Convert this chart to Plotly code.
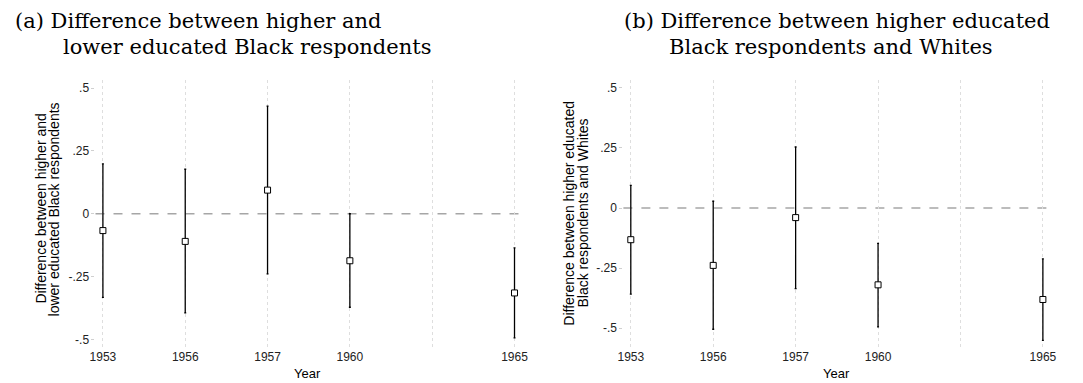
import plotly.graph_objects as go
from plotly.subplots import make_subplots

# Survey years; the blank slot keeps the spacing of the year axis
years = ["1953", "1956", "1957", "1960", "1965"]
year_slots = ["1953", "1956", "1957", "1960", " ", "1965"]

# (a) higher vs lower educated Black respondents
est_a = [-0.067, -0.110, 0.094, -0.187, -0.315]
lo_a = [-0.333, -0.394, -0.239, -0.372, -0.494]
hi_a = [0.198, 0.177, 0.428, 0.000, -0.136]

# (b) higher educated Black respondents vs Whites
est_b = [-0.132, -0.239, -0.040, -0.320, -0.381]
lo_b = [-0.359, -0.505, -0.336, -0.495, -0.551]
hi_b = [0.094, 0.028, 0.254, -0.147, -0.212]

y_ticks = [0.5, 0.25, 0, -0.25, -0.5]
y_tick_text = [".5", ".25", "0", "-.25", "-.5"]

titles_a = ["(a) Difference between higher and", "lower educated Black respondents"]
titles_b = ["(b) Difference between higher educated", "Black respondents and Whites"]
ytitle_a = ["Difference between higher and", "lower educated Black respondents"]
ytitle_b = ["Difference between higher educated", "Black respondents and Whites"]

W, H = 1083, 383
fig = make_subplots(rows=1, cols=2)


def px_x(v):
    return v / W


def px_y(v):
    return 1 - v / H


for col, est, lo, hi in [(1, est_a, lo_a, hi_a), (2, est_b, lo_b, hi_b)]:
    fig.add_trace(
        go.Scatter(
            x=years,
            y=est,
            mode="markers",
            marker=dict(symbol="square", size=6, color="white",
                        line=dict(color="black", width=1)),
            error_y=dict(
                type="data",
                symmetric=False,
                array=[h - e for h, e in zip(hi, est)],
                arrayminus=[e - l for e, l in zip(est, lo)],
                color="black",
                thickness=1.3,
                width=1,
            ),
            showlegend=False,
        ),
        row=1, col=col,
    )
    fig.add_hline(y=0, line=dict(color="#a6a6a6", width=1.3, dash="dash"),
                  layer="below", row=1, col=col)

axis_font = dict(family="Liberation Sans, Arial, sans-serif", size=12, color="#222")

x_domains = [[px_x(90.5), px_x(521.7)], [px_x(624.3), px_x(1056)]]
y_domain = [px_y(348), px_y(80)]
y_ranges = [[-0.534, 0.532], [-0.583, 0.533]]

for i in range(2):
    xa = "xaxis" if i == 0 else "xaxis2"
    ya = "yaxis" if i == 0 else "yaxis2"
    fig.layout[xa].update(
        domain=x_domains[i],
        type="category",
        categoryorder="array",
        categoryarray=year_slots,
        range=[-0.09, 5.09],
        showgrid=True,
        gridcolor="#dedede",
        griddash="dot",
        gridwidth=1,
        showline=False,
        zeroline=False,
        ticks="",
        tickfont=axis_font,
    )
    fig.layout[ya].update(
        domain=y_domain,
        range=y_ranges[i],
        tickvals=y_ticks,
        ticktext=y_tick_text,
        showgrid=False,
        zeroline=False,
        showline=False,
        ticks="outside",
        ticklen=3,
        tickcolor="#d0d0d0",
        tickfont=axis_font,
    )

title_font = dict(family="DejaVu Serif, serif", size=21, color="black")
annotations = []
for text, x, yb in [
    (titles_a[0], 7, 28), (titles_a[1], 56, 54),
    (titles_b[0], 623, 28), (titles_b[1], 668, 54),
]:
    annotations.append(dict(
        text=text, x=px_x(x), y=px_y(yb + 7), xref="paper", yref="paper",
        xanchor="left", yanchor="bottom", showarrow=False, font=title_font,
    ))

ytitle_font = dict(family="Liberation Sans, Arial, sans-serif", size=14, color="black")
for lines, xs, yc in [(ytitle_a, (35, 49), 209), (ytitle_b, (569, 583), 213)]:
    for text, x in zip(lines, xs):
        annotations.append(dict(
            text=text, x=px_x(x), y=px_y(yc), xref="paper", yref="paper",
            xanchor="center", yanchor="middle", showarrow=False, textangle=-90,
            font=ytitle_font,
        ))

for x in [305, 840]:
    annotations.append(dict(
        text="Year", x=px_x(x), y=px_y(373), xref="paper", yref="paper",
        xanchor="center", yanchor="middle", showarrow=False,
        font=dict(family="Liberation Sans, Arial, sans-serif", size=13, color="black"),
    ))

fig.update_layout(
    width=W,
    height=H,
    margin=dict(l=0, r=0, t=0, b=0),
    paper_bgcolor="white",
    plot_bgcolor="white",
    annotations=annotations,
)

fig.write_html("out.html")
